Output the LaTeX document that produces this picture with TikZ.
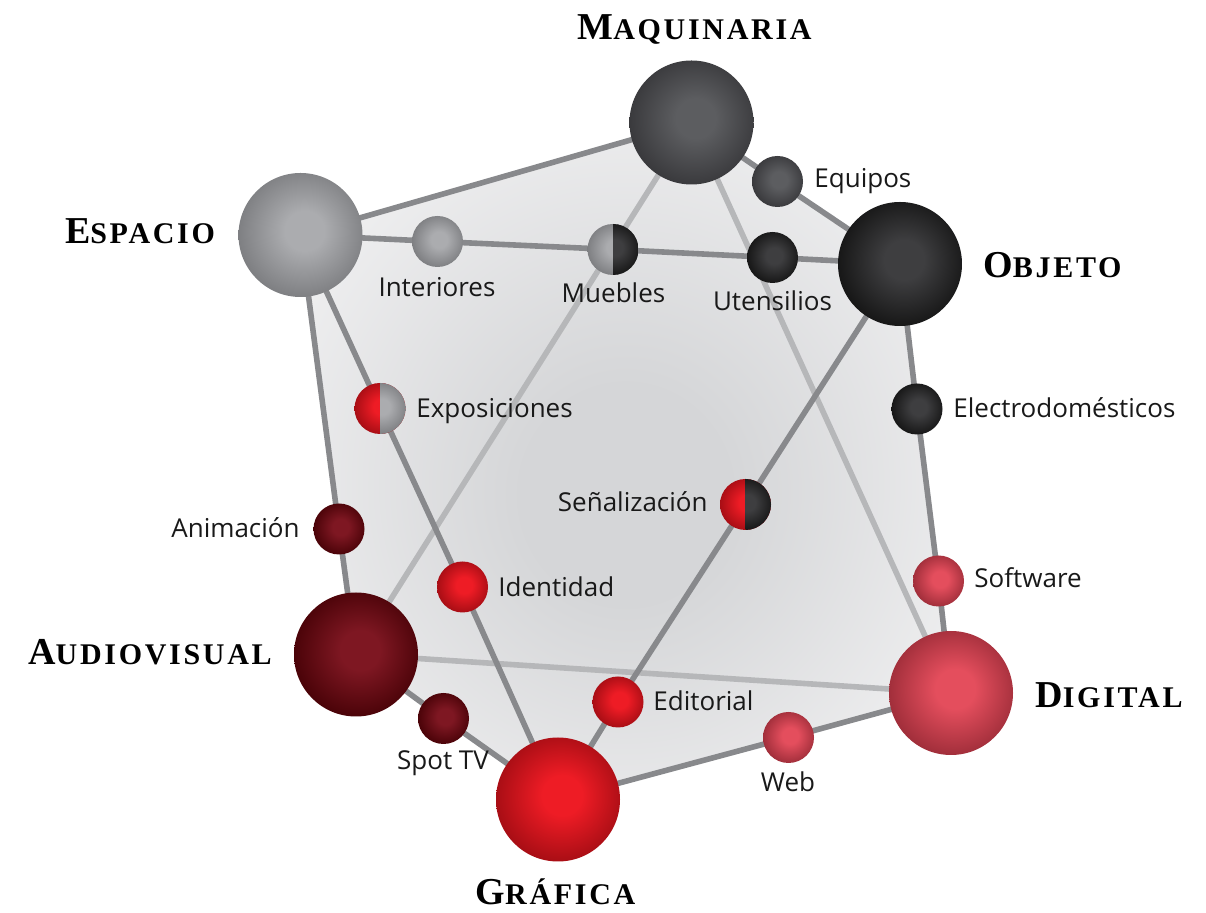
\documentclass[tikz,border=0pt]{standalone}
\usepackage{fontspec}
\setsansfont{Open Sans}
\newfontfamily\titlefont[LetterSpace=9]{Liberation Serif}
\usetikzlibrary{backgrounds}

\definecolor{maqC}{HTML}{5C5D60}\definecolor{maqE}{HTML}{38383B}
\definecolor{espC}{HTML}{ABACAF}\definecolor{espE}{HTML}{7C7D80}
\definecolor{objC}{HTML}{3E3E40}\definecolor{objE}{HTML}{151515}
\definecolor{audC}{HTML}{7E1722}\definecolor{audE}{HTML}{480207}
\definecolor{graC}{HTML}{EE1C25}\definecolor{graE}{HTML}{A50D14}
\definecolor{digC}{HTML}{E44E5D}\definecolor{digE}{HTML}{9E2D39}
\definecolor{faceIn}{HTML}{D5D6D8}\definecolor{faceOut}{HTML}{F0F0F1}
\definecolor{lineD}{HTML}{88898C}\definecolor{lineL}{HTML}{B6B7B9}

\pgfdeclareradialshading{maqS}{\pgfpoint{2bp}{2bp}}{color(0bp)=(maqC); color(8bp)=(maqC); color(27bp)=(maqE); color(50bp)=(maqE)}
\pgfdeclareradialshading{espS}{\pgfpoint{2bp}{2bp}}{color(0bp)=(espC); color(8bp)=(espC); color(27bp)=(espE); color(50bp)=(espE)}
\pgfdeclareradialshading{objS}{\pgfpoint{2bp}{2bp}}{color(0bp)=(objC); color(8bp)=(objC); color(27bp)=(objE); color(50bp)=(objE)}
\pgfdeclareradialshading{audS}{\pgfpoint{2bp}{2bp}}{color(0bp)=(audC); color(8bp)=(audC); color(27bp)=(audE); color(50bp)=(audE)}
\pgfdeclareradialshading{graS}{\pgfpoint{2bp}{2bp}}{color(0bp)=(graC); color(8bp)=(graC); color(27bp)=(graE); color(50bp)=(graE)}
\pgfdeclareradialshading{digS}{\pgfpoint{2bp}{2bp}}{color(0bp)=(digC); color(8bp)=(digC); color(27bp)=(digE); color(50bp)=(digE)}
\pgfdeclareradialshading{faceS}{\pgfpoint{0bp}{-3bp}}{color(0bp)=(faceIn); color(8bp)=(faceIn); color(30bp)=(faceOut); color(50bp)=(faceOut)}

\newcommand\ttl[2]{{\fontsize{19}{19}\selectfont #1}{\fontsize{15}{15}\selectfont #2}}

\tikzset{
  ballbase/.style={circle, inner sep=0pt, outer sep=0pt, shade},
  bigball/.style={ballbase, minimum size=62pt},
  smallball/.style={ballbase, minimum size=25.5pt},
  halfball/.style 2 args={smallball, shading=#1, path picture={
      \clip (path picture bounding box.north) rectangle (path picture bounding box.south east);
      \shade[shading=#2] (path picture bounding box.center) circle (12.75pt);}},
  lbl/.style={font=\sffamily\fontsize{13}{13}\selectfont, inner sep=0pt, text=black!90},
  title/.style={font=\titlefont\bfseries, inner sep=0pt, text=black},
  edgeD/.style={draw=lineD, line width=2.8pt},
  edgeL/.style={draw=lineL, line width=2.8pt},
}

\begin{document}
\begin{tikzpicture}[x=0.5pt, y=-0.5pt]
\useasboundingbox (0,0) rectangle (1206,913);

% big nodes
\node[bigball, shading=maqS] (maq) at (691.5,122.5) {};
\node[bigball, shading=espS] (esp) at (300.5,235) {};
\node[bigball, shading=objS] (obj) at (900,264) {};
\node[bigball, shading=audS] (aud) at (356,654.5) {};
\node[bigball, shading=graS] (gra) at (558,799.5) {};
\node[bigball, shading=digS] (dig) at (951,693) {};

% small nodes
\node[smallball, shading=maqS] (equ) at (777.5,181.5) {};
\node[smallball, shading=espS] (int) at (437.5,241.5) {};
\node[halfball={espS}{objS}] (mue) at (613,249.5) {};
\node[smallball, shading=objS] (ute) at (772.5,257.5) {};
\node[halfball={graS}{espS}] (exp) at (380,408.5) {};
\node[smallball, shading=objS] (ele) at (917,409) {};
\node[halfball={graS}{objS}] (sen) at (745.5,504.5) {};
\node[smallball, shading=audS] (ani) at (339,529) {};
\node[smallball, shading=graS] (ide) at (462.5,587) {};
\node[smallball, shading=digS] (sof) at (938.5,581) {};
\node[smallball, shading=graS] (edi) at (618,702) {};
\node[smallball, shading=audS] (spo) at (443.5,718.5) {};
\node[smallball, shading=digS] (web) at (788.5,737.5) {};

% titles
\node[title, anchor=base] (tmaq) at (694.5,39.5) {\ttl{M}{AQUINARIA}};
\node[title, anchor=base] (tesp) at (140,244) {\ttl{E}{SPACIO}};
\node[title, anchor=base] (tobj) at (1052.5,278) {\ttl{O}{BJETO}};
\node[title, anchor=base] (taud) at (150,665) {\ttl{A}{UDIOVISUAL}};
\node[title, anchor=base] (tdig) at (1109,708) {\ttl{D}{IGITAL}};
\node[title, anchor=base] (tgra) at (555.5,905) {\ttl{G}{RÁFICA}};

% labels
\node[lbl, anchor=base west] (lequ) at (814,188) {Equipos};
\node[lbl, anchor=base] (lint) at (437,297) {Interiores};
\node[lbl, anchor=base] (lmue) at (613.5,303) {Muebles};
\node[lbl, anchor=base] (lute) at (772.5,311) {Utensilios};
\node[lbl, anchor=base west] (lexp) at (416,418) {Exposiciones};
\node[lbl, anchor=base west] (lele) at (953,418) {Electrodomésticos};
\node[lbl, anchor=base east] (lsen) at (708,512) {Señalización};
\node[lbl, anchor=base east] (lani) at (300,538) {Animación};
\node[lbl, anchor=base west] (lide) at (498,597) {Identidad};
\node[lbl, anchor=base west] (lsof) at (974,588) {Software};
\node[lbl, anchor=base west] (ledi) at (653,711) {Editorial};
\node[lbl, anchor=base] (lspo) at (443,770) {Spot TV};
\node[lbl, anchor=base] (lweb) at (788,792) {Web};

\begin{pgfonlayer}{background}
  \shade[shading=faceS] (esp.center) -- (maq.center) -- (obj.center) -- (dig.center) -- (gra.center) -- (aud.center) -- cycle;
  % light interior lines
  \draw[edgeL] (maq.center) -- (aud.center);
  \draw[edgeL] (maq.center) -- (dig.center);
  \draw[edgeL] (aud.center) -- (dig.center);
  % darker lines
  \draw[edgeD] (esp.center) -- (int.center) -- (mue.center) -- (ute.center) -- (obj.center);
  \draw[edgeD] (esp.center) -- (exp.center) -- (ide.center) -- (gra.center);
  \draw[edgeD] (obj.center) -- (sen.center) -- (edi.center) -- (gra.center);
  % outline
  \draw[edgeD] (esp.center) -- (maq.center);
  \draw[edgeD] (maq.center) -- (equ.center) -- (obj.center);
  \draw[edgeD] (obj.center) -- (ele.center) -- (sof.center) -- (dig.center);
  \draw[edgeD] (dig.center) -- (web.center) -- (gra.center);
  \draw[edgeD] (gra.center) -- (spo.center) -- (aud.center);
  \draw[edgeD] (aud.center) -- (ani.center) -- (esp.center);
\end{pgfonlayer}
\end{tikzpicture}
\end{document}
